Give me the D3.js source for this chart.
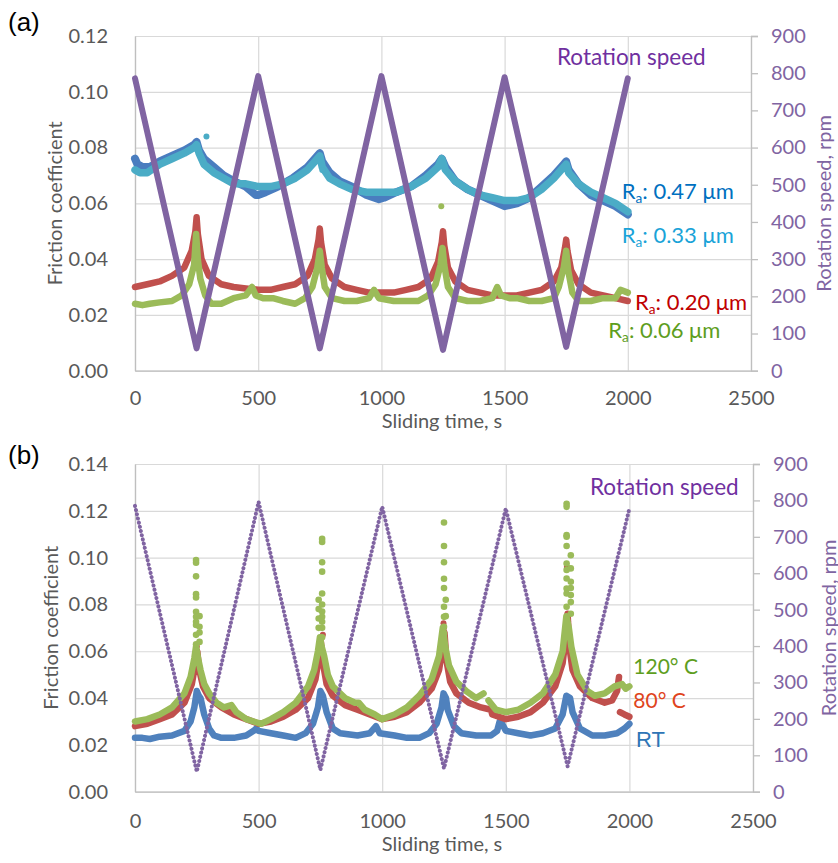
<!DOCTYPE html>
<html><head><meta charset="utf-8">
<script src="https://cdn.jsdelivr.net/npm/d3@7/dist/d3.min.js"></script>
<style>body{margin:0;background:#fff}svg{display:block}</style>
</head><body>
<svg id="c" width="838" height="863"></svg>
<script>
// ---------------- DATA ----------------
const timeTicks = [0, 500, 1000, 1500, 2000, 2500];
const frictionTicksA = [0, 0.02, 0.04, 0.06, 0.08, 0.10, 0.12];
const frictionTicksB = [0, 0.02, 0.04, 0.06, 0.08, 0.10, 0.12, 0.14];
const rpmTicks = [0, 100, 200, 300, 400, 500, 600, 700, 800, 900];

// Panel (a): friction vs time for different roughness
const rotationA = [[0,786],[250,60],[500,792],[750,60],[1000,792],[1250,56],[1500,789],[1750,64],[2000,786]];
const ra047 = [[0,0.076],[10,0.074],[30,0.073],[60,0.073],[100,0.075],[150,0.077],[200,0.079],[240,0.081],[250,0.082],[260,0.079],[280,0.076],[320,0.073],[360,0.070],[400,0.068],[450,0.066],[490,0.063],[500,0.063],[530,0.064],[580,0.066],[640,0.069],[700,0.073],[740,0.077],[750,0.078],[760,0.075],[790,0.071],[830,0.068],[880,0.066],[940,0.063],[990,0.0615],[1010,0.062],[1060,0.064],[1120,0.066],[1180,0.070],[1230,0.074],[1245,0.076],[1260,0.073],[1300,0.068],[1350,0.065],[1400,0.063],[1450,0.061],[1500,0.059],[1550,0.060],[1600,0.062],[1650,0.066],[1700,0.070],[1740,0.074],[1750,0.075],[1760,0.072],[1800,0.067],[1850,0.063],[1900,0.061],[1950,0.059],[2000,0.056]];
const ra033 = [[0,0.072],[20,0.071],[50,0.071],[100,0.074],[150,0.076],[200,0.078],[240,0.080],[250,0.081],[260,0.078],[280,0.074],[320,0.071],[360,0.069],[400,0.067],[450,0.067],[500,0.066],[550,0.066],[600,0.067],[650,0.069],[700,0.072],[740,0.076],[750,0.077],[760,0.073],[790,0.069],[830,0.067],[880,0.065],[940,0.064],[1000,0.064],[1060,0.064],[1120,0.066],[1180,0.069],[1230,0.073],[1245,0.076],[1260,0.072],[1300,0.068],[1350,0.065],[1400,0.063],[1450,0.062],[1500,0.061],[1550,0.061],[1600,0.062],[1650,0.065],[1700,0.069],[1740,0.073],[1750,0.074],[1760,0.071],[1800,0.067],[1850,0.064],[1900,0.062],[1950,0.060],[2000,0.057]];
const ra020 = [[0,0.030],[50,0.031],[100,0.032],[150,0.034],[200,0.037],[230,0.043],[245,0.050],[250,0.055],[255,0.049],[270,0.040],[300,0.034],[350,0.031],[400,0.030],[450,0.0295],[500,0.029],[550,0.029],[600,0.030],[650,0.031],[700,0.034],[730,0.040],[745,0.047],[750,0.051],[755,0.046],[770,0.038],[800,0.033],[850,0.030],[900,0.029],[950,0.028],[1000,0.028],[1050,0.028],[1100,0.029],[1150,0.030],[1200,0.033],[1230,0.039],[1245,0.046],[1250,0.050],[1255,0.045],[1270,0.037],[1300,0.032],[1350,0.029],[1400,0.028],[1450,0.027],[1500,0.027],[1550,0.027],[1600,0.028],[1650,0.029],[1700,0.032],[1730,0.037],[1745,0.044],[1750,0.047],[1755,0.043],[1770,0.036],[1800,0.031],[1850,0.028],[1900,0.027],[1950,0.026],[2000,0.025]];
const ra006 = [[0,0.024],[30,0.0235],[60,0.024],[100,0.0245],[150,0.025],[190,0.027],[220,0.031],[240,0.038],[248,0.049],[255,0.040],[265,0.033],[285,0.027],[310,0.024],[350,0.024],[400,0.026],[450,0.027],[475,0.030],[490,0.027],[520,0.026],[560,0.026],[600,0.025],[650,0.024],[690,0.026],[720,0.030],[740,0.037],[750,0.043],[758,0.037],[770,0.030],[800,0.026],[850,0.025],[900,0.025],[950,0.026],[970,0.029],[990,0.026],[1050,0.025],[1100,0.025],[1150,0.025],[1190,0.027],[1220,0.031],[1240,0.038],[1248,0.044],[1255,0.038],[1270,0.030],[1300,0.026],[1350,0.025],[1400,0.025],[1450,0.026],[1470,0.030],[1485,0.027],[1520,0.026],[1550,0.026],[1600,0.025],[1650,0.025],[1700,0.026],[1720,0.030],[1740,0.037],[1750,0.043],[1758,0.036],[1775,0.028],[1800,0.025],[1850,0.025],[1900,0.026],[1950,0.026],[1970,0.029],[2000,0.028]];
const ra033Strays = [[290,0.084],[760,0.072]];
const ra006Strays = [[1243,0.059]];

// Panel (b): friction vs time for different temperatures
const rotationB = [[0,785],[250,55],[500,796],[750,60],[1000,783],[1250,64],[1500,778],[1750,70],[2000,778]];
const tRT = [[0,0.023],[30,0.023],[60,0.0225],[100,0.0235],[150,0.024],[200,0.026],[225,0.030],[240,0.036],[250,0.043],[258,0.041],[265,0.040],[280,0.033],[300,0.027],[320,0.024],[350,0.023],[400,0.023],[450,0.024],[480,0.026],[490,0.027],[500,0.026],[550,0.025],[600,0.024],[650,0.023],[690,0.025],[720,0.029],[740,0.036],[750,0.043],[760,0.041],[775,0.034],[800,0.027],[830,0.025],[900,0.024],[950,0.025],[975,0.028],[990,0.025],[1050,0.024],[1100,0.023],[1150,0.023],[1190,0.025],[1220,0.029],[1240,0.036],[1248,0.042],[1258,0.040],[1265,0.035],[1290,0.028],[1320,0.025],[1380,0.024],[1440,0.024],[1465,0.026],[1475,0.030],[1485,0.029],[1500,0.026],[1550,0.025],[1600,0.024],[1650,0.025],[1700,0.027],[1730,0.033],[1745,0.041],[1760,0.040],[1770,0.034],[1800,0.027],[1850,0.024],[1900,0.024],[1950,0.025],[1980,0.027],[2000,0.029]];
const t80 = [[0,0.028],[50,0.029],[100,0.031],[150,0.033],[200,0.038],[230,0.046],[245,0.055],[252,0.060],[260,0.052],[275,0.045],[300,0.040],[350,0.036],[400,0.033],[450,0.031],[500,0.029],[550,0.030],[600,0.032],[650,0.035],[700,0.040],[730,0.048],[745,0.058],[752,0.064],[760,0.055],[775,0.046],[800,0.041],[850,0.037],[900,0.035],[950,0.033],[1000,0.031],[1050,0.032],[1100,0.034],[1150,0.038],[1200,0.044],[1230,0.052],[1245,0.062],[1252,0.068],[1260,0.056],[1275,0.047],[1300,0.042],[1350,0.038],[1400,0.036],[1440,0.035],[1445,0.033],[1500,0.031],[1550,0.032],[1600,0.034],[1650,0.038],[1700,0.045],[1730,0.055],[1745,0.068],[1750,0.076],[1757,0.062],[1770,0.052],[1800,0.045],[1850,0.040],[1900,0.038],[1930,0.039],[1950,0.043],[1958,0.049],[1960,null],[1962,0.034],[1980,0.033],[2000,0.032]];
const t120 = [[0,0.030],[50,0.031],[100,0.033],[150,0.036],[200,0.042],[225,0.049],[240,0.057],[247,0.062],[255,0.057],[265,0.052],[280,0.046],[300,0.042],[330,0.038],[360,0.036],[390,0.037],[410,0.034],[450,0.031],[480,0.030],[510,0.029],[550,0.031],[600,0.034],[650,0.038],[700,0.045],[725,0.052],[740,0.060],[748,0.066],[755,0.062],[765,0.058],[780,0.050],[800,0.045],[850,0.040],[890,0.038],[905,0.038],[930,0.035],[970,0.033],[1000,0.031],[1050,0.033],[1100,0.036],[1150,0.041],[1200,0.048],[1230,0.058],[1245,0.070],[1255,0.062],[1270,0.054],[1300,0.047],[1340,0.043],[1380,0.040],[1410,0.042],[1420,null],[1430,0.039],[1460,0.035],[1500,0.034],[1550,0.035],[1600,0.038],[1650,0.042],[1700,0.050],[1730,0.060],[1745,0.075],[1755,0.070],[1765,0.062],[1790,0.050],[1830,0.043],[1860,0.041],[1900,0.042],[1940,0.045],[1970,0.046],[1985,0.044],[2000,0.045]];
const t80Spikes = [[250,0.062],[760,0.067],[1248,0.072],[1250,0.070],[1747,0.096],[1750,0.0755],[1752,0.0726]];
const t120Spikes = [[247,0.099],[247,0.0978],[247,0.092],[247,0.0844],[247,0.083],[247,0.0769],[247,0.0747],[247,0.0726],[247,0.0712],[247,0.067],[247,0.063],[261,0.075],[261,0.0705],[261,0.068],[261,0.064],
 [757,0.108],[757,0.1067],[757,0.098],[757,0.094],[757,0.0847],[757,0.080],[757,0.077],[757,0.0747],[757,0.0726],[757,0.070],[757,0.066],[743,0.082],[743,0.078],[743,0.074],[743,0.070],
 [1250,0.115],[1250,0.105],[1250,0.098],[1250,0.091],[1250,0.087],[1250,0.079],[1250,0.0747],[1250,0.0705],[1250,0.0676],[1257,0.082],[1257,0.075],
 [1746,0.123],[1746,0.1217],[1746,0.1096],[1746,0.1089],[1746,0.105],[1746,0.0975],[1746,0.0947],[1746,0.0911],[1746,0.0868],[1746,0.0847],[1746,0.079],[1763,0.101],[1763,0.0954],[1763,0.0897],[1763,0.087],[1763,0.084],[1763,0.081],[1763,0.076]];

// ---------------- DRAWING ----------------
const svg = d3.select("#c");
const FONT = "Lato, 'Open Sans', sans-serif";
const GRAY = "#595959", PURPLE_AX = "#8064A2";
const TICK_FS = 20, TITLE_FS = 20;

function panel(cfg) {
  const g = svg.append("g");
  const x = d3.scaleLinear().domain([0, 2500]).range([cfg.left, cfg.right]);
  const y = d3.scaleLinear().domain([0, cfg.yMax]).range([cfg.bottom, cfg.top]);
  const yR = d3.scaleLinear().domain([0, 900]).range([cfg.bottom, cfg.top]);
  const W = cfg.right - cfg.left, H = cfg.bottom - cfg.top;

  // grids
  const gx = g.append("g").attr("transform", `translate(0,${cfg.bottom})`)
    .call(d3.axisBottom(x).tickValues(timeTicks).tickSize(-H).tickFormat(""));
  const gy = g.append("g").attr("transform", `translate(${cfg.left},0)`)
    .call(d3.axisLeft(y).tickValues(cfg.yTicks).tickSize(-W).tickFormat(""));
  [gx, gy].forEach(a => { a.select(".domain").remove(); a.selectAll("line").attr("stroke", "#D9D9D9").attr("stroke-width", 1.2); });

  // axes
  const ax = g.append("g").attr("transform", `translate(0,${cfg.bottom})`)
    .call(d3.axisBottom(x).tickValues(timeTicks).tickSize(0).tickFormat(d3.format("d")));
  ax.select(".domain").attr("stroke", "#BFBFBF").attr("stroke-width", 1.3);
  ax.selectAll("text").attr("dy", null).attr("y", cfg.xLabelOff)
    .attr("font-family", FONT).attr("font-size", TICK_FS).attr("fill", GRAY);

  const ay = g.append("g").attr("transform", `translate(${cfg.left},0)`)
    .call(d3.axisLeft(y).tickValues(cfg.yTicks).tickSize(0).tickPadding(27).tickFormat(d3.format(".2f")));
  ay.select(".domain").attr("stroke", "#BFBFBF").attr("stroke-width", 1.3);
  ay.selectAll("text").attr("font-family", FONT).attr("font-size", TICK_FS).attr("fill", GRAY);

  const ar = g.append("g").attr("transform", `translate(${cfg.right},0)`)
    .call(d3.axisRight(yR).tickValues(rpmTicks).tickSize(7).tickPadding(13));
  ar.select(".domain").attr("stroke", "#BFBFBF").attr("stroke-width", 1.3);
  ar.selectAll("line").attr("stroke", "#BFBFBF").attr("stroke-width", 1.3);
  ar.selectAll("text").attr("font-family", FONT).attr("font-size", TICK_FS).attr("fill", PURPLE_AX);

  // titles
  g.append("text").attr("x", 442).attr("y", cfg.xTitleY).attr("text-anchor", "middle")
    .attr("font-family", FONT).attr("font-size", TITLE_FS).attr("fill", GRAY).text("Sliding time, s");
  g.append("text").attr("transform", `translate(${cfg.yTitleX},${(cfg.top + cfg.bottom) / 2}) rotate(-90)`)
    .attr("text-anchor", "middle").attr("font-family", FONT).attr("font-size", TITLE_FS).attr("fill", GRAY)
    .text("Friction coefficient");
  g.append("text").attr("transform", `translate(${cfg.yRTitleX},${(cfg.top + cfg.bottom) / 2}) rotate(-90)`)
    .attr("text-anchor", "middle").attr("font-family", FONT).attr("font-size", TITLE_FS).attr("fill", PURPLE_AX)
    .text("Rotation speed, rpm");
  g.append("text").attr("x", 8).attr("y", cfg.tagY).attr("font-family", "'Liberation Sans', Arial, sans-serif")
    .attr("font-size", 26).attr("fill", "#000").text(cfg.tag);

  const lineF = d3.line().defined(d => d[1] != null).x(d => x(d[0])).y(d => y(d[1]));
  const lineR = d3.line().x(d => x(d[0])).y(d => yR(d[1]));
  const plot = g.append("g");
  cfg.series.forEach(s => {
    plot.append("path").datum(s.data).attr("d", lineF).attr("fill", "none")
      .attr("stroke", s.color).attr("stroke-width", s.width)
      .attr("stroke-linejoin", "round").attr("stroke-linecap", "round");
    if (s.dots) plot.selectAll(null).data(s.dots).enter().append("circle")
      .attr("cx", d => x(d[0])).attr("cy", d => y(d[1])).attr("r", s.r || 3).attr("fill", s.color);
  });
  const rp = plot.append("path").datum(cfg.rotation).attr("d", lineR).attr("fill", "none")
    .attr("stroke", "#8064A2").attr("stroke-width", cfg.rotWidth)
    .attr("stroke-linejoin", "round").attr("stroke-linecap", "round");
  if (cfg.rotDash) rp.attr("stroke-dasharray", cfg.rotDash);

  // labels
  cfg.labels.forEach(l => {
    const t = g.append("text").attr("x", l.x).attr("y", l.y)
      .attr("font-family", l.font || FONT)
      .attr("font-size", l.size).attr("fill", l.color);
    if (l.sub) {
      t.append("tspan").text("R");
      t.append("tspan").attr("dy", 4).attr("font-size", l.size * 0.62).text("a");
      t.append("tspan").attr("dy", -4).text(l.text);
    } else t.text(l.text);
  });
}

panel({
  tag: "(a)", tagY: 31, top: 36, bottom: 370.7, left: 135, right: 751, yMax: 0.12, yTicks: frictionTicksA,
  xLabelOff: 34.3, xTitleY: 428, yTitleX: 61.5, yRTitleX: 831,
  rotation: rotationA, rotWidth: 6,
  series: [
    { data: ra047, color: "#4A7DBF", width: 8 },
    { data: ra033, color: "#4BACC6", width: 7.5, dots: ra033Strays },
    { data: ra020, color: "#C0504D", width: 6.5 },
    { data: ra006, color: "#9BBB59", width: 6.5, dots: ra006Strays }
  ],
  labels: [
    { text: "Rotation speed", x: 557, y: 65, size: 22.5, color: "#7030A0" },
    { sub: true, text: ": 0.47 μm", x: 621.7, y: 199, size: 22, color: "#0070C0" },
    { sub: true, text: ": 0.33 μm", x: 621.7, y: 243.3, size: 22, color: "#1AA3D8" },
    { sub: true, text: ": 0.20 μm", x: 635, y: 310, size: 22, color: "#C00000" },
    { sub: true, text: ": 0.06 μm", x: 608.3, y: 338, size: 22, color: "#5E9E1E" }
  ]
});

panel({
  tag: "(b)", tagY: 464, top: 464, bottom: 791.7, left: 135, right: 753, yMax: 0.14, yTicks: frictionTicksB,
  xLabelOff: 36.3, xTitleY: 851, yTitleX: 57.5, yRTitleX: 835.5,
  rotation: rotationB, rotWidth: 4, rotDash: "0.1,4.2",
  series: [
    { data: tRT, color: "#4F81BD", width: 6.5 },
    { data: t80, color: "#C0504D", width: 6.5, dots: t80Spikes },
    { data: t120, color: "#9BBB59", width: 6.5, dots: t120Spikes, r: 3.3 }
  ],
  labels: [
    { text: "Rotation speed", x: 590, y: 495, size: 22.5, color: "#7030A0" },
    { text: "120° C", x: 633.3, y: 674, size: 21, color: "#5E9E1E" },
    { text: "80° C", x: 633.3, y: 708.3, size: 21, color: "#E0441C" },
    { text: "RT", x: 636, y: 747.3, size: 22, color: "#2E75B6", font: "'Liberation Sans', Arial, sans-serif" }
  ]
});
</script>
</body></html>
